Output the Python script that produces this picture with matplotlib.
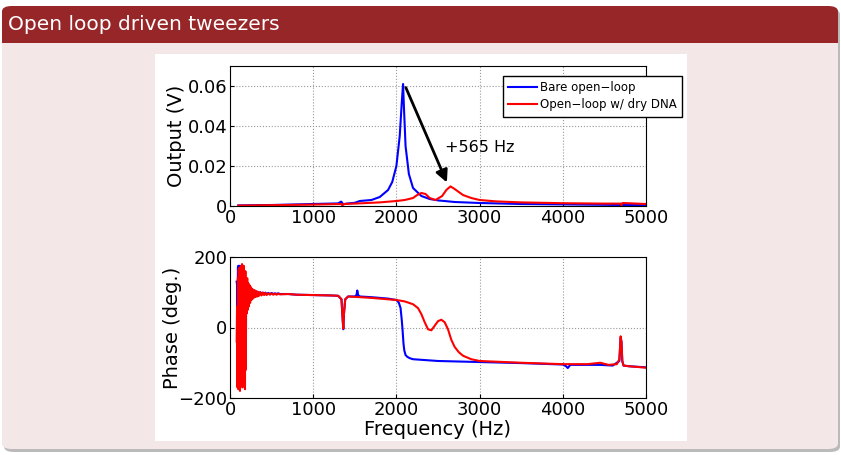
import matplotlib.pyplot as plt
from matplotlib.patches import FancyBboxPatch, Rectangle

# magnitude (Hz, V)
mag_blue_f = [100, 500, 1000, 1300, 1335, 1345, 1360, 1400, 1500, 1540, 1560, 1700, 1800, 1900, 1950,
              2000, 2040, 2065, 2080, 2090, 2110, 2150, 2200, 2300, 2400, 2500, 2700, 3000, 3500,
              4000, 4500, 4690, 4700, 4710, 5000]
mag_blue = [0.0003, 0.0005, 0.001, 0.0013, 0.0022, 0.0018, 0.0008, 0.0012, 0.0016, 0.0022, 0.0025,
            0.003, 0.0045, 0.008, 0.012, 0.02, 0.035, 0.052, 0.061, 0.05, 0.03, 0.016, 0.009,
            0.005, 0.0035, 0.0028, 0.002, 0.0015, 0.001, 0.0008, 0.0006, 0.0005, 0.0012, 0.0005, 0.0004]

mag_red_f = [100, 1000, 1340, 1350, 1370, 1500, 1800, 2000, 2100, 2200, 2250, 2300, 2350, 2400,
             2470, 2550, 2600, 2650, 2700, 2800, 2900, 3000, 3200, 3500, 4000, 4500, 4690, 4705,
             4720, 5000]
mag_red = [0.0002, 0.0007, 0.001, 0.0003, 0.001, 0.0012, 0.0018, 0.0025, 0.003, 0.004, 0.0055,
           0.0065, 0.006, 0.004, 0.003, 0.005, 0.008, 0.0098, 0.0085, 0.0055, 0.004, 0.003,
           0.0023, 0.0018, 0.0014, 0.0012, 0.0012, 0.0004, 0.0015, 0.001]

# phase (Hz, deg) - noisy low-frequency part read point by point
noise_f = [80, 85, 90, 95, 100, 105, 110, 115, 120, 125, 130, 135, 140, 145, 150, 155, 160, 165,
           170, 175, 180, 185, 190, 195, 200, 207, 214, 221, 228, 235, 242, 250, 258, 266, 274,
           282, 290, 300, 310, 320, 330, 340, 350, 365, 380, 395, 410, 425, 440, 460, 480, 500,
           520, 540, 560, 580, 600]
noise_blue = [130, 120, -20, 170, 175, -150, 175, -170, 175, 130, -160, 175, -120, 170, 60, 165,
              -100, 160, 20, 150, 60, 140, 90, 130, 70, 125, 75, 120, 80, 115, 85, 112, 88, 108,
              90, 106, 92, 104, 93, 102, 94, 101, 95, 100, 94, 99, 95, 99, 95, 98, 95, 98, 95, 97,
              95, 97, 95]
noise_red = [-40, 60, -170, 140, -175, 165, -160, 170, -180, 150, -140, 175, -150, 180, -170, 140,
             -100, 175, -160, 150, -175, 160, -120, 130, 40, 140, 50, 125, 60, 120, 70, 115, 78,
             110, 82, 107, 85, 105, 87, 103, 88, 101, 90, 100, 91, 99, 92, 98, 92, 97, 93, 97, 93,
             96, 93, 96, 94]

phase_blue_f = noise_f + [700, 800, 1000, 1200, 1300, 1340, 1355, 1362, 1370, 1385, 1420, 1500,
                          1520, 1530, 1540, 1560, 1700, 1900, 2000, 2030, 2050, 2065, 2075, 2085,
                          2095, 2110, 2130, 2160, 2200, 2500, 3000, 3500, 4000, 4040, 4060, 4090,
                          4300, 4450, 4600, 4680, 4695, 4705, 4715, 4730, 4800, 5000]
phase_blue = noise_blue + [95, 93, 92, 91, 90, 80, 20, -5, 40, 80, 88, 88, 92, 105, 92, 88, 86, 82,
                           78, 70, 55, 20, -10, -45, -65, -78, -83, -87, -90, -95, -98, -101,
                           -105, -110, -115, -106, -106, -106, -108, -95, -30, -40, -95, -108,
                           -110, -113]

phase_red_f = noise_f + [700, 800, 1000, 1200, 1300, 1340, 1355, 1362, 1370, 1385, 1420, 1500,
                         1700, 1900, 2000, 2100, 2200, 2260, 2300, 2340, 2380, 2420, 2460, 2500,
                         2540, 2580, 2620, 2660, 2700, 2750, 2800, 2900, 3000, 3500, 4000, 4300,
                         4450, 4550, 4650, 4680, 4695, 4705, 4715, 4730, 4800, 5000]
phase_red = noise_red + [95, 93, 92, 91, 90, 80, 20, -3, 40, 80, 88, 87, 84, 80, 78, 74, 66, 55,
                         38, 15, -5, -8, 5, 18, 22, 15, -5, -35, -55, -70, -80, -90, -95, -100,
                         -104, -104, -100, -106, -104, -90, -25, -40, -95, -108, -110, -114]

W, H = 841, 455


def px(x, y, w, h):
    # pixel box (top-left origin) -> figure fraction
    return x / W, 1 - (y + h) / H, w / W, h / H


fig = plt.figure(figsize=(8.41, 4.55), dpi=100, facecolor='white')


def add_box(box, color, rounded=True, alpha=1.0):
    x0, y0, w0, h0 = px(*box)
    if rounded:
        p = FancyBboxPatch((x0, y0), w0, h0, boxstyle='round,pad=0,rounding_size=0.012',
                           transform=fig.transFigure, fc=color, ec='none', alpha=alpha, zorder=-5)
    else:
        p = Rectangle((x0, y0), w0, h0, transform=fig.transFigure, fc=color, ec='none', zorder=-5)
    fig.patches.append(p)


# beamer block
add_box((4, 9, 836, 443), '#8c8c8c', alpha=0.6)
add_box((2, 6, 836, 443), '#f4e7e7')
add_box((2, 6, 836, 37), '#972628')
add_box((2, 30, 836, 13), '#972628', rounded=False)
add_box((155, 54, 532, 387), 'white', rounded=False)
fig.text(8 / W, 1 - 25 / H, 'Open loop driven tweezers', color='white', fontsize=14.5,
         va='center', ha='left')

ax1 = fig.add_axes(px(230, 66, 416, 140))
ax2 = fig.add_axes(px(230, 257, 416, 141))

ax1.plot(mag_blue_f, mag_blue, color='#0000ff', lw=1.5, label='Bare open\u2212loop')
ax1.plot(mag_red_f, mag_red, color='#ff0000', lw=1.5, label='Open\u2212loop w/ dry DNA')
ax1.set_xlim(0, 5000)
ax1.set_ylim(0, 0.07)
ax1.set_yticks([0, 0.02, 0.04, 0.06])
ax1.set_yticklabels(['0', '0.02', '0.04', '0.06'])
ax1.set_ylabel('Output (V)', fontsize=14, labelpad=1)
ax1.annotate('', xy=(2620, 0.0105), xytext=(2100, 0.0605),
             arrowprops=dict(arrowstyle='-|>', color='black', lw=2, mutation_scale=18))
ax1.text(2580, 0.029, '+565 Hz', fontsize=11.5, va='center', ha='left')
ax1.legend(loc='upper left', bbox_to_anchor=(503 / W, 1 - 76 / H), bbox_transform=fig.transFigure,
           fontsize=8.5, frameon=True, fancybox=False, edgecolor='black', framealpha=1,
           handlelength=2.4, handletextpad=0.3, borderpad=0.45, labelspacing=0.35,
           borderaxespad=0)

ax2.plot(phase_blue_f, phase_blue, color='#0000ff', lw=1.5)
ax2.plot(phase_red_f, phase_red, color='#ff0000', lw=1.5)
ax2.set_xlim(0, 5000)
ax2.set_ylim(-200, 200)
ax2.set_yticks([-200, 0, 200])
ax2.set_ylabel('Phase (deg.)', fontsize=14, labelpad=-3)
ax2.set_xlabel('Frequency (Hz)', fontsize=14, labelpad=1)

for ax in (ax1, ax2):
    ax.set_xticks([0, 1000, 2000, 3000, 4000, 5000])
    ax.grid(True, linestyle=':', color='#999999', lw=0.8)
    ax.tick_params(direction='in', labelsize=13, length=3, pad=2)
    for s in ax.spines.values():
        s.set_linewidth(0.8)

fig.savefig('out.png', dpi=100)
